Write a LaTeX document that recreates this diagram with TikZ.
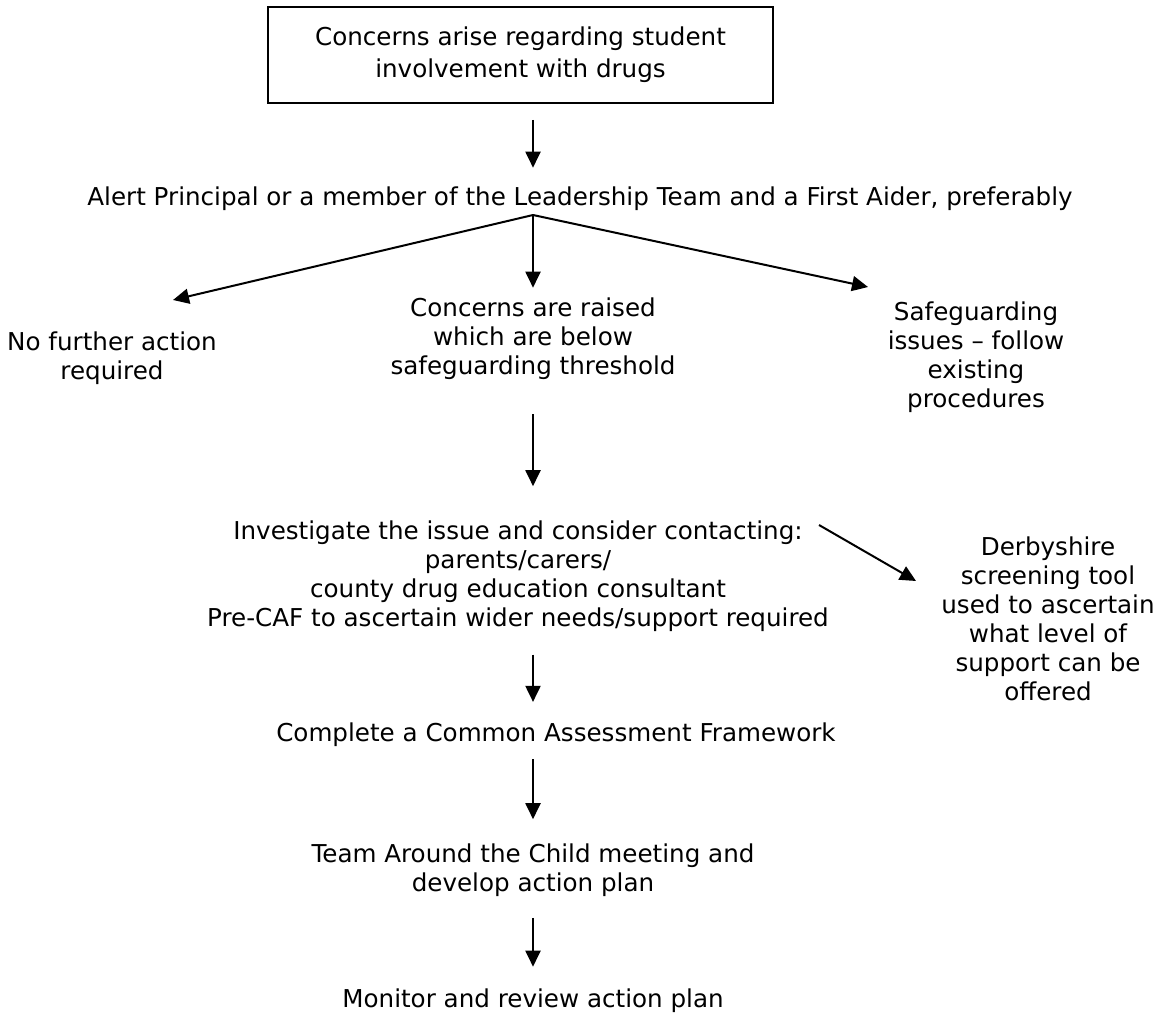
\documentclass[tikz,border=0pt]{standalone}
\usepackage{fontspec}
\setmainfont{DejaVu Sans}
\usetikzlibrary{arrows.meta}

\tikzset{
    flowtext/.style={align=center, inner sep=0pt, font=\fontsize{12.3}{14.5}\selectfont},
    flowbox/.style={draw, line width=0.8pt, minimum width=252.5pt, minimum height=48pt,
        align=center, inner sep=0pt, font=\fontsize{12.3}{16}\selectfont},
    flowarrow/.style={line width=1pt, -{Triangle[length=8pt,width=7.5pt]}}
}

\begin{document}
\begin{tikzpicture}[x=0.5pt, y=-0.5pt]

    % Page size of the reference
    \useasboundingbox (0,0) rectangle (1165,1016);

    % Start of the chart
    \node[flowbox] (concern) at (520.5,55) {Concerns arise regarding student\\involvement with drugs};
    \node[flowtext] (alert) at (580,199) {Alert Principal or a member of the Leadership Team and a First Aider, preferably};

    % The three outcomes
    \node[flowtext] (nfa) at (112,358) {No further action\\required};
    \node[flowtext] (below) at (533,339) {Concerns are raised\\which are below\\safeguarding threshold};
    \node[flowtext] (safe) at (976,357) {Safeguarding\\issues – follow\\existing\\procedures};

    % Investigation and screening
    \node[flowtext] (invest) at (518,576) {Investigate the issue and consider contacting:\\parents/carers/\\county drug education consultant\\Pre-CAF to ascertain wider needs/support required};
    \node[flowtext] (derby) at (1048,619) {Derbyshire\\screening tool\\used to ascertain\\what level of\\support can be\\offered};

    % Later steps
    \node[flowtext] (caf) at (556,735) {Complete a Common Assessment Framework};
    \node[flowtext] (tac) at (533,870) {Team Around the Child meeting and\\develop action plan};
    \node[flowtext] (monitor) at (533,1001) {Monitor and review action plan};

    % Where the fan of arrows starts and ends
    \coordinate (fan) at (533,215);
    \coordinate (nfa tip) at (173,300);
    \coordinate (safe tip) at (868,287);
    \coordinate (derby start) at (819,525);
    \coordinate (derby tip) at (916,581);

    % Arrows down the middle
    \draw[flowarrow, shorten <=8pt, shorten >=9.5pt] (concern.south -| fan) -- (alert.north -| fan);
    \draw[flowarrow, shorten >=5pt] (fan) -- (below.north);
    \draw[flowarrow, shorten <=17pt, shorten >=17pt] (below.south) -- (invest.north -| below);
    \draw[flowarrow, shorten <=11.4pt, shorten >=10.4pt] (invest.south -| fan) -- (caf.north -| fan);
    \draw[flowarrow, shorten <=6pt, shorten >=12pt] (caf.south -| fan) -- (tac.north -| fan);
    \draw[flowarrow, shorten <=10.5pt, shorten >=11pt] (tac.south -| fan) -- (monitor.north -| fan);

    % Side arrows
    \draw[flowarrow] (fan) -- (nfa tip);
    \draw[flowarrow] (fan) -- (safe tip);
    \draw[flowarrow] (derby start) -- (derby tip);

\end{tikzpicture}
\end{document}
